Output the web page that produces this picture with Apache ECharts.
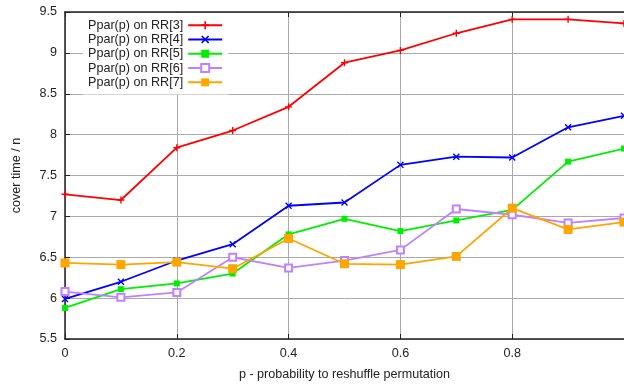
<!DOCTYPE html>
<html lang="en">
<head>
  <meta charset="UTF-8">
  <title>cover time</title>
  <script src="https://cdn.jsdelivr.net/npm/echarts@6/dist/echarts.min.js"></script>
  <style>
    html, body { margin: 0; padding: 0; background: #fff; }
  </style>
</head>
<body>
  <div id="main" style="width: 624px;height:387px;"></div>
  <script>
    // x positions (p) and measured cover time / n for each RR[k]
    var pValues = [0, 0.1, 0.2, 0.3, 0.4, 0.5, 0.6, 0.7, 0.8, 0.9, 1.0];
    var rr3 = [7.27, 7.20, 7.84, 8.05, 8.34, 8.88, 9.03, 9.24, 9.41, 9.41, 9.36];
    var rr4 = [5.99, 6.20, 6.46, 6.66, 7.13, 7.17, 7.63, 7.73, 7.72, 8.09, 8.23];
    var rr5 = [5.88, 6.11, 6.18, 6.30, 6.78, 6.97, 6.82, 6.95, 7.08, 7.67, 7.83];
    var rr6 = [6.08, 6.01, 6.07, 6.50, 6.37, 6.46, 6.59, 7.09, 7.02, 6.92, 6.98];
    var rr7 = [6.43, 6.41, 6.44, 6.36, 6.73, 6.42, 6.41, 6.51, 7.10, 6.84, 6.93];
    var seriesNames = ['Ppar(p) on RR[3]', 'Ppar(p) on RR[4]', 'Ppar(p) on RR[5]', 'Ppar(p) on RR[6]', 'Ppar(p) on RR[7]'];

    var plusPath = 'path://M4,0H6V10H4ZM0,4H10V6H0Z';
    var crossPath = 'path://M0,1.4L1.4,0L5,3.6L8.6,0L10,1.4L6.4,5L10,8.6L8.6,10L5,6.4L1.4,10L0,8.6L3.6,5Z';

    function pairs(ys) {
      return pValues.map(function (p, i) { return [p, ys[i]]; });
    }

    function makeLine(name, ys, color, symbol, size) {
      return {
        name: name,
        type: 'line',
        data: pairs(ys),
        symbol: symbol,
        symbolSize: size,
        showAllSymbol: true,
        lineStyle: { color: color, width: 1.8 },
        itemStyle: { color: color, borderColor: color, borderWidth: symbol === 'emptyRect' ? 1.5 : 0 }
      };
    }

    var myChart = echarts.init(document.getElementById('main'));

    var axisFont = { fontFamily: 'Liberation Sans', fontSize: 12.6, color: '#222' };

    var option = {
      animation: false,
      grid: { left: 65, right: -6, top: 12, bottom: 48 },
      legend: {
        orient: 'vertical',
        left: 83,
        top: 13,
        padding: 5,
        align: 'right',
        backgroundColor: '#fff',
        itemWidth: 34,
        itemHeight: 10,
        itemGap: 0,
        textStyle: { fontFamily: 'Liberation Sans', fontSize: 12.6, color: '#222', lineHeight: 14.3 },
        data: seriesNames
      },
      xAxis: [
        {
          type: 'value',
          min: 0,
          max: 1,
          interval: 0.2,
          name: 'p - probability to reshuffle permutation',
          nameLocation: 'middle',
          nameGap: 29,
          nameTextStyle: axisFont,
          axisLine: { lineStyle: { color: '#222', width: 1.5 } },
          axisTick: { inside: true, length: 5, lineStyle: { color: '#222' } },
          axisLabel: Object.assign({ margin: 8, showMaxLabel: false }, axisFont),
          splitLine: { show: true, lineStyle: { color: '#aaa', width: 1 } }
        },
        {
          type: 'value',
          position: 'top',
          min: 0,
          max: 1,
          interval: 0.2,
          axisLine: { show: true, lineStyle: { color: '#222', width: 1.5 } },
          axisTick: { show: true, inside: true, length: 5, lineStyle: { color: '#222' } },
          axisLabel: { show: false },
          splitLine: { show: false }
        }
      ],
      yAxis: {
        type: 'value',
        min: 5.5,
        max: 9.5,
        interval: 0.5,
        name: 'cover time / n',
        nameLocation: 'middle',
        nameGap: 42,
        nameTextStyle: axisFont,
        axisLine: { show: true, lineStyle: { color: '#222', width: 1.5 } },
        axisTick: { show: true, inside: true, length: 5, lineStyle: { color: '#222' } },
        axisLabel: Object.assign({ margin: 8 }, axisFont),
        splitLine: { show: true, lineStyle: { color: '#aaa', width: 1 } }
      },
      series: [
        makeLine(seriesNames[0], rr3, '#ff0000', plusPath, 7),
        makeLine(seriesNames[1], rr4, '#0000ff', crossPath, 7),
        makeLine(seriesNames[2], rr5, '#00ee00', 'rect', 6),
        makeLine(seriesNames[3], rr6, '#c080ff', 'emptyRect', 7),
        makeLine(seriesNames[4], rr7, '#ffa500', 'rect', 9)
      ]
    };

    myChart.setOption(option);
  </script>
</body>
</html>
